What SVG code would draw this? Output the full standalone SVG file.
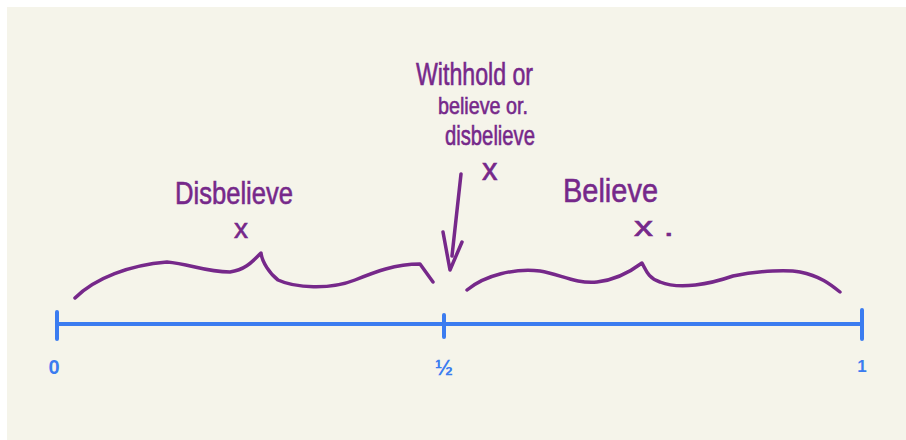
<svg xmlns="http://www.w3.org/2000/svg" width="906" height="440" viewBox="0 0 906 440">
<style>
.hand{fill:#76288a;font-family:"Liberation Sans",sans-serif;stroke:#76288a;stroke-width:0.6;}
.stroke{fill:none;stroke:#76288a;stroke-width:3.5;stroke-linecap:round;stroke-linejoin:round;}
.axis{fill:none;stroke:#3b7cf0;stroke-width:4;stroke-linecap:round;}
.num{fill:#3b7cf0;font-family:"Liberation Sans",sans-serif;font-weight:bold;text-anchor:middle;}
</style>
<rect x="7" y="7" width="899" height="433" fill="#f5f4ea"/>
<g id="number-line">
<path class="axis" d="M57 324 H862 M57 312 V339 M444 315 V337 M862 310 V339"/>
</g>
<g id="label-0"><text class="num" x="54" y="374" font-size="20">0</text></g>
<g id="label-half"><text class="num" x="444" y="375" font-size="22">½</text></g>
<g id="label-1"><text class="num" x="862" y="372" font-size="17">1</text></g>
<g id="disbelieve">
<text class="hand" x="175" y="204" font-size="32" textLength="118" lengthAdjust="spacingAndGlyphs">Disbelieve</text>
<text class="hand" x="234" y="238" font-size="28">x</text>
</g>
<g id="believe">
<text class="hand" x="563" y="202" font-size="34" textLength="95" lengthAdjust="spacingAndGlyphs">Believe</text>
<text class="hand" x="634" y="236" font-size="28" textLength="40" lengthAdjust="spacingAndGlyphs">x .</text>
</g>
<g id="withhold">
<text class="hand" x="416" y="85" font-size="31" textLength="117" lengthAdjust="spacingAndGlyphs">Withhold or</text>
<text class="hand" x="438" y="114" font-size="24" textLength="90" lengthAdjust="spacingAndGlyphs">believe or.</text>
<text class="hand" x="445" y="145" font-size="28" textLength="90" lengthAdjust="spacingAndGlyphs">disbelieve</text>
<text class="hand" x="482" y="180" font-size="31">x</text>
</g>
<g id="connectors">
<path class="stroke" d="M75 298 C95 278 130 265 167 262 C190 264 205 272 230 272 C245 270 252 262 261 253 C262 262 270 274 278 280 C295 288 330 290 355 280 C375 272 395 264 420 264 L433 282"/>
<path class="stroke" d="M467 290 C485 275 515 268 540 271 C560 274 575 284 597 282 C615 280 630 272 642 263 C646 270 648 278 660 282 C680 290 710 284 733 276 C760 270 790 270 800 272 C820 276 830 284 840 292"/>
<path class="stroke" d="M461 174 L452 256 M443 232 L450 270 L462 242"/>
</g>
</svg>
